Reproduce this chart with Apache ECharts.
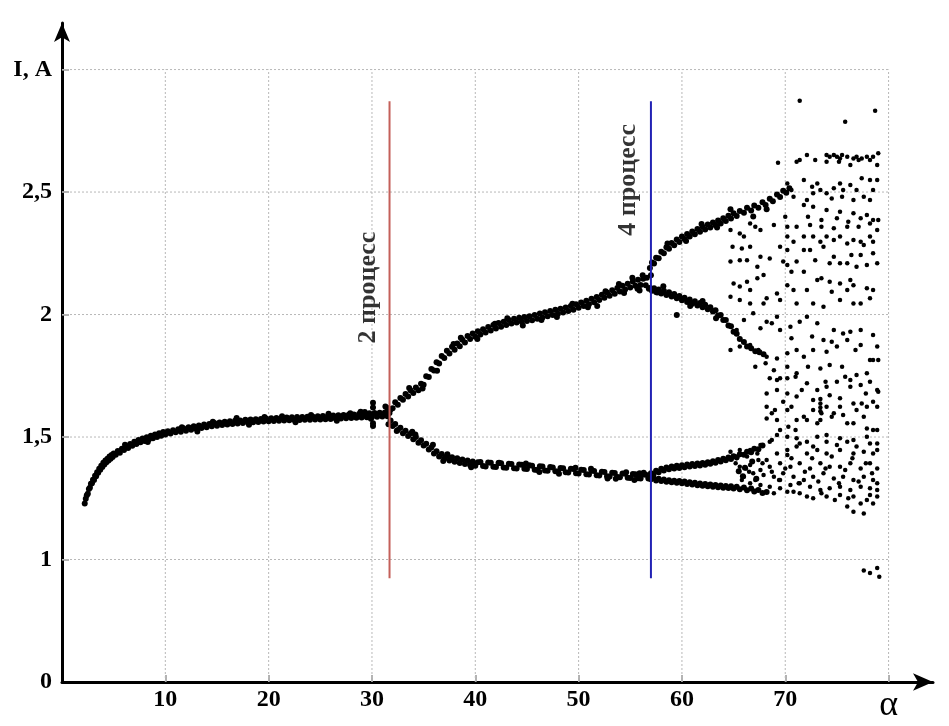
<!DOCTYPE html>
<html>
<head>
<meta charset="utf-8">
<script src="https://cdn.jsdelivr.net/npm/echarts@6/dist/echarts.min.js"></script>
<style>html,body{margin:0;padding:0;background:#fff}#c{width:949px;height:726px}</style>
</head>
<body>
<div id="c"></div>
<script>
// ---------- axis ticks / labels ----------
const xTickValues = [10, 20, 30, 40, 50, 60, 70, 80];
const xTickLabels = ['10', '20', '30', '40', '50', '60', '70', '{a|α}'];
const yTickValues = [0.5, 1, 1.5, 2, 2.5, 3];
const yTickLabels = ['0', '1', '1,5', '2', '2,5', 'I, A'];
const gridX = [10, 20, 30, 40, 50, 60, 70, 80];
const gridY = [1, 1.5, 2, 2.5, 3];

// ---------- data: [alpha, I] ----------
const branch1 = [[2.2,1.229],[2.3,1.248],[2.4,1.262],[2.5,1.268],[2.6,1.288],[2.7,1.293],[2.8,1.309],[2.9,1.311],[3.0,1.326],[3.1,1.325],[3.2,1.342],[3.3,1.340],[3.4,1.356],[3.5,1.354],[3.6,1.370],[3.7,1.366],[3.8,1.383],[3.9,1.378],[4.0,1.395],[4.1,1.388],[4.2,1.404],[4.3,1.397],[4.4,1.411],[4.5,1.404],[4.6,1.420],[4.7,1.411],[4.8,1.427],[4.9,1.418],[5.0,1.433],[5.2,1.428],[5.4,1.443],[5.6,1.436],[5.8,1.452],[6.0,1.447],[6.2,1.462],[6.4,1.455],[6.6,1.472],[6.8,1.464],[7.0,1.481],[7.2,1.472],[7.4,1.488],[7.6,1.479],[7.8,1.494],[8.0,1.484],[8.2,1.499],[8.4,1.490],[8.6,1.505],[8.8,1.495],[9.0,1.510],[9.2,1.500],[9.4,1.515],[9.6,1.505],[9.8,1.520],[10.0,1.510],[10.25,1.524],[10.5,1.514],[10.75,1.528],[11.0,1.519],[11.25,1.532],[11.5,1.522],[11.75,1.536],[12.0,1.526],[12.25,1.540],[12.5,1.530],[12.75,1.544],[13.0,1.534],[13.25,1.547],[13.5,1.537],[13.75,1.551],[14.0,1.540],[14.25,1.553],[14.5,1.544],[14.75,1.557],[15.0,1.546],[15.25,1.559],[15.5,1.549],[15.75,1.562],[16.0,1.551],[16.25,1.564],[16.5,1.553],[16.75,1.566],[17.0,1.555],[17.25,1.567],[17.5,1.557],[17.75,1.570],[18.0,1.558],[18.25,1.571],[18.5,1.560],[18.75,1.573],[19.0,1.561],[19.25,1.574],[19.5,1.563],[19.75,1.576],[20.0,1.564],[20.25,1.577],[20.5,1.565],[20.75,1.578],[21.0,1.566],[21.25,1.579],[21.5,1.567],[21.75,1.580],[22.0,1.568],[22.25,1.581],[22.5,1.569],[22.75,1.582],[23.0,1.569],[23.25,1.582],[23.5,1.570],[23.75,1.583],[24.0,1.570],[24.25,1.584],[24.5,1.571],[24.75,1.585],[25.0,1.572],[25.25,1.586],[25.5,1.573],[25.75,1.587],[26.0,1.574],[26.25,1.588],[26.5,1.575],[26.75,1.589],[27.0,1.576],[27.25,1.590],[27.5,1.577],[27.75,1.591],[28.0,1.578],[28.25,1.592],[28.5,1.579],[28.75,1.594],[29.0,1.580],[29.25,1.595],[29.5,1.581],[29.75,1.597],[30.0,1.582],[30.25,1.598],[30.5,1.583],[30.75,1.599],[31.0,1.584],[31.25,1.600],[31.5,1.585],[31.7,1.598],
[16.9,1.578],[21.3,1.585],[25.8,1.595],[28.9,1.603],[30.1,1.640],[30.1,1.620],[30.1,1.545],[30.1,1.556],[29.3,1.602],[31.3,1.625],[31.5,1.618],[31.6,1.552],
[6.1,1.468],[8.3,1.480],[11.6,1.540],[13.1,1.523],[14.6,1.562],[18.1,1.550],[19.6,1.582],[22.6,1.560],[24.1,1.590],[26.6,1.566],[27.9,1.597],[29.9,1.575]];

const upperBranch = [[31.8,1.612],[32.0,1.617],[32.25,1.642],[32.5,1.632],[32.75,1.659],[33.0,1.652],[33.25,1.676],[33.5,1.665],[33.75,1.690],[34.0,1.680],[34.25,1.702],[34.5,1.691],[34.75,1.717],[35.0,1.713],[35.25,1.748],[35.5,1.745],[35.75,1.778],[36.0,1.772],[36.25,1.805],[36.5,1.800],[36.75,1.831],[37.0,1.823],[37.25,1.852],[37.5,1.841],[37.75,1.868],[38.0,1.856],[38.25,1.882],[38.5,1.871],[38.75,1.897],[39.0,1.886],[39.25,1.912],[39.5,1.900],[39.75,1.923],[40.0,1.909],[40.25,1.932],[40.5,1.918],[40.75,1.940],[41.0,1.927],[41.25,1.949],[41.5,1.935],[41.75,1.957],[42.0,1.943],[42.25,1.965],[42.5,1.950],[42.75,1.971],[43.0,1.957],[43.25,1.978],[43.5,1.963],[43.75,1.983],[44.0,1.967],[44.25,1.987],[44.5,1.971],[44.75,1.990],[45.0,1.974],[45.25,1.993],[45.5,1.977],[45.75,1.998],[46.0,1.983],[46.25,2.004],[46.5,1.988],[46.75,2.009],[47.0,1.993],[47.25,2.014],[47.5,1.998],[47.75,2.019],[48.0,2.003],[48.25,2.024],[48.5,2.008],[48.75,2.029],[49.0,2.014],[49.25,2.035],[49.5,2.020],[49.75,2.042],[50.0,2.028],[50.25,2.049],[50.5,2.035],[50.75,2.056],[51.0,2.042],[51.25,2.064],[51.5,2.050],[51.75,2.072],[52.0,2.059],[52.25,2.081],[52.5,2.068],[52.75,2.090],[53.0,2.077],[53.25,2.099],[53.5,2.085],[53.75,2.108],[54.0,2.094],[54.25,2.117],[54.5,2.102],[54.75,2.126],[55.0,2.110],[55.25,2.135],[55.5,2.117],[55.75,2.142],[56.0,2.121],[56.25,2.146],[56.5,2.120],
[44.6,1.955],[47.9,1.990],[51.8,2.035],[53.9,2.125],[55.2,2.150],[55.7,2.105],[56.2,2.160],[55.9,2.098],[40.2,1.900],[38.6,1.905],[36.3,1.770],[33.6,1.700],[57.0,2.160],[57.6,2.090],[56.8,2.105],
[34.9,1.698],[37.9,1.880],[41.9,1.962],[43.1,1.985],[46.4,1.978],[49.4,2.044],[50.9,2.030],[52.6,2.095],[54.4,2.088],[56.6,2.150]];

const lowerBranch = [[31.8,1.567],[32.0,1.545],[32.25,1.553],[32.5,1.529],[32.75,1.538],[33.0,1.515],[33.25,1.526],[33.5,1.504],[33.75,1.514],[34.0,1.491],[34.25,1.500],[34.5,1.477],[34.75,1.487],[35.0,1.465],[35.25,1.473],[35.5,1.449],[35.75,1.457],[36.0,1.433],[36.25,1.442],[36.5,1.420],[36.75,1.431],[37.0,1.411],[37.25,1.423],[37.5,1.404],[37.75,1.417],[38.0,1.399],[38.25,1.413],[38.5,1.394],[38.75,1.408],[39.0,1.390],[39.25,1.404],[39.5,1.386],[39.75,1.400],[40.0,1.383],[40.25,1.397],[40.5,1.398],[40.75,1.382],[41.0,1.380],[41.25,1.396],[41.5,1.395],[41.75,1.379],[42.0,1.378],[42.25,1.394],[42.5,1.393],[42.75,1.376],[43.0,1.375],[43.25,1.391],[43.5,1.390],[43.75,1.373],[44.0,1.372],[44.25,1.388],[44.5,1.387],[44.75,1.370],[45.0,1.369],[45.25,1.385],[45.5,1.383],[45.75,1.366],[46.0,1.365],[46.25,1.381],[46.5,1.380],[46.75,1.363],[47.0,1.362],[47.25,1.378],[47.5,1.376],[47.75,1.360],[48.0,1.359],[48.25,1.374],[48.5,1.373],[48.75,1.356],[49.0,1.355],[49.25,1.370],[49.5,1.369],[49.75,1.352],[50.0,1.351],[50.25,1.366],[50.5,1.365],[50.75,1.348],[51.0,1.347],[51.25,1.362],[51.5,1.361],[51.75,1.344],[52.0,1.343],[52.25,1.358],[52.5,1.357],[52.75,1.340],[53.0,1.339],[53.25,1.354],[53.5,1.353],[53.75,1.337],[54.0,1.336],[54.25,1.351],[54.5,1.350],[54.75,1.334],[55.0,1.333],[55.25,1.349],[55.5,1.348],[55.75,1.332],[56.0,1.331],[56.25,1.347],[56.5,1.346],[56.75,1.331],[57.0,1.340],
[35.9,1.468],[37.3,1.430],[42.3,1.395],[46.2,1.357],[49.7,1.375],[52.8,1.331],[54.6,1.356],[55.4,1.325],[56.3,1.354],[34.2,1.510],[32.4,1.525],
[33.9,1.522],[36.9,1.402],[39.6,1.377],[44.9,1.392],[48.1,1.350],[51.2,1.370],[53.6,1.330],[55.9,1.352]];

const fourUU = [[56.9,2.190],[57.1,2.212],[57.3,2.208],[57.5,2.232],[57.75,2.230],[58.0,2.256],[58.25,2.250],[58.5,2.275],[58.75,2.268],[59.0,2.292],[59.25,2.283],[59.5,2.306],[59.75,2.296],[60.0,2.318],[60.25,2.308],[60.5,2.329],[60.75,2.318],[61.0,2.339],[61.25,2.328],[61.5,2.349],[61.75,2.338],[62.0,2.358],[62.25,2.347],[62.5,2.367],[62.75,2.355],[63.0,2.376],[63.25,2.364],[63.5,2.384],[63.75,2.372],[64.0,2.393],[64.25,2.382],[64.5,2.403],[64.75,2.392],[65.0,2.413],[65.3,2.402],[65.6,2.423],[66.0,2.415],[66.3,2.436],[66.7,2.425],[67.0,2.445],[67.4,2.436],[67.8,2.458],[68.1,2.447],[68.5,2.473],[68.8,2.462],[69.2,2.490],[69.5,2.480],[69.8,2.505],[70.1,2.497],[70.4,2.515],
[64.7,2.430],[66.9,2.400],[68.2,2.430],[58.6,2.290],[60.4,2.300],[61.9,2.370],[63.4,2.355]];

const fourUL = [[56.9,2.108],[57.1,2.097],[57.3,2.107],[57.5,2.092],[57.75,2.102],[58.0,2.086],[58.25,2.097],[58.5,2.080],[58.75,2.091],[59.0,2.074],[59.25,2.084],[59.5,2.066],[59.75,2.076],[60.0,2.058],[60.25,2.068],[60.5,2.051],[60.75,2.061],[61.0,2.044],[61.25,2.054],[61.5,2.037],[61.75,2.047],[62.0,2.030],[62.25,2.040],[62.5,2.022],[62.75,2.030],[63.0,2.012],[63.25,2.017],[63.5,1.996],[63.75,1.998],[64.0,1.978],[64.25,1.978],[64.5,1.955],[64.75,1.952],[65.0,1.930],[65.3,1.922],[65.6,1.900],[66.0,1.888],[66.3,1.870],[66.7,1.862],[67.1,1.850],[67.5,1.846],[67.9,1.838],
[58.2,2.115],[60.8,2.035],[62.0,2.055],[63.3,1.985],[59.5,1.998]];

const fourLU = [[57.0,1.352],[57.25,1.348],[57.5,1.362],[57.75,1.356],[58.0,1.370],[58.25,1.363],[58.5,1.376],[58.75,1.368],[59.0,1.380],[59.25,1.371],[59.5,1.383],[59.75,1.374],[60.0,1.385],[60.25,1.377],[60.5,1.388],[60.75,1.380],[61.0,1.390],[61.25,1.382],[61.5,1.392],[61.75,1.384],[62.0,1.394],[62.25,1.387],[62.5,1.397],[62.75,1.391],[63.0,1.401],[63.25,1.395],[63.5,1.406],[63.75,1.400],[64.0,1.411],[64.25,1.405],[64.5,1.416],[64.75,1.410],[65.0,1.422],[65.3,1.417],[65.6,1.430],[66.0,1.428],[66.3,1.440],[66.7,1.438],[67.0,1.452],[67.4,1.450],[67.8,1.465]];

const fourLL = [[57.0,1.328],[57.25,1.334],[57.5,1.323],[57.75,1.330],[58.0,1.320],[58.25,1.327],[58.5,1.317],[58.75,1.324],[59.0,1.315],[59.25,1.322],[59.5,1.313],[59.75,1.320],[60.0,1.311],[60.25,1.318],[60.5,1.308],[60.75,1.315],[61.0,1.306],[61.25,1.313],[61.5,1.303],[61.75,1.310],[62.0,1.301],[62.25,1.308],[62.5,1.299],[62.75,1.306],[63.0,1.297],[63.25,1.304],[63.5,1.295],[63.75,1.302],[64.0,1.293],[64.25,1.300],[64.5,1.292],[64.75,1.299],[65.0,1.290],[65.3,1.297],[65.6,1.287],[66.0,1.294],[66.3,1.283],[66.7,1.290],[67.0,1.278],[67.4,1.284],[67.8,1.271],[68.2,1.276],
[65.5,1.360],[66.1,1.375],[66.8,1.400],[67.2,1.330],[65.9,1.340]];

const chaosUpper = [[71.4,2.873],[75.8,2.787],[78.7,2.832],[69.3,2.620],
[71.1,2.624],[71.4,2.631],[72.1,2.651],[72.9,2.631],[74.0,2.651],[74.3,2.644],[74.7,2.651],[75.0,2.644],[75.3,2.637],[75.5,2.651],[76.0,2.644],[76.6,2.637],[76.9,2.644],[77.1,2.631],[77.4,2.637],[77.9,2.644],[78.2,2.631],[78.5,2.644],[78.9,2.610],[79.0,2.658],[76.3,2.610],[74.0,2.624],[75.2,2.624],
[70.2,2.535],[71.8,2.549],[73.1,2.535],[74.7,2.515],[76.3,2.529],[77.4,2.556],[78.2,2.549],[78.9,2.549],[75.6,2.508],[73.4,2.508],
[70.8,2.481],[72.1,2.467],[72.7,2.495],[74.5,2.474],[75.5,2.481],[76.6,2.467],[77.6,2.481],[78.2,2.467],
[70.0,2.399],[71.8,2.447],[72.7,2.440],[74.0,2.427],[75.3,2.420],[76.6,2.413],[78.5,2.386],[77.3,2.393],[79.0,2.386],
[66.6,2.372],[67.1,2.358],[68.9,2.365],[70.2,2.358],[71.1,2.358],[72.4,2.365],[73.5,2.358],[74.7,2.352],[76.0,2.358],[77.1,2.358],[78.9,2.345],[78.2,2.372],
[64.7,2.345],[65.6,2.331],[66.0,2.318],[67.6,2.345],[70.2,2.318],[71.8,2.318],[72.7,2.318],[74.0,2.318],[75.3,2.318],[76.6,2.304],[77.3,2.297],[78.2,2.318],
[64.9,2.277],[65.8,2.270],[66.6,2.277],[70.2,2.263],[71.8,2.263],[72.4,2.263],[73.7,2.277],[74.7,2.236],[76.4,2.243],[77.3,2.243],[78.5,2.250],[69.5,2.277],
[64.7,2.216],[66.3,2.222],[67.6,2.236],[68.5,2.229],[69.8,2.216],[71.1,2.216],[72.9,2.222],[74.3,2.209],[76.0,2.209],[77.9,2.202],[78.9,2.209],[70.6,2.175],[71.8,2.175],
[65.0,2.127],[66.3,2.134],[67.3,2.148],[67.9,2.161],[70.2,2.120],[72.1,2.100],[73.1,2.141],[73.5,2.148],[74.3,2.134],[75.3,2.127],[76.3,2.141],[77.9,2.107],[76.6,2.120],
[64.7,2.073],[65.6,2.059],[66.6,2.045],[68.2,2.066],[69.2,2.086],[69.5,2.059],[71.1,2.045],[72.7,2.045],[74.5,2.093],[75.3,2.059],[77.3,2.045],[78.2,2.066],
[70.6,2.508],[72.6,2.522],[74.0,2.495],[75.3,2.535],[76.9,2.508],[78.5,2.508],[72.2,2.399],[73.5,2.386],[75.0,2.393],[76.1,2.379],[77.9,2.406],
[70.8,2.297],[73.4,2.297],[74.7,2.304],[76.0,2.290],[77.6,2.284],[78.5,2.297],[65.6,2.222],[67.3,2.195],[70.2,2.202],[75.3,2.209],[76.9,2.195],
[65.6,2.114],[66.6,2.100],[70.8,2.100],[76.0,2.100],[78.5,2.100],[67.9,2.045],[73.7,2.032],[76.6,2.045]];

const chaosMiddle = [[65.3,1.937],[66.0,1.978],[66.9,2.005],[67.6,1.944],[68.2,1.971],[69.2,1.991],[69.5,1.937],[70.5,1.950],[71.4,1.971],[72.1,1.991],[73.1,1.964],[73.7,1.896],[74.7,1.937],[75.6,1.923],[76.3,1.930],[77.3,1.937],[78.5,1.916],[78.9,1.869],
[65.6,1.869],[66.6,1.876],[67.4,1.855],[68.2,1.828],[69.2,1.821],[70.2,1.842],[71.1,1.855],[71.8,1.828],[72.7,1.855],[74.0,1.848],[75.0,1.869],[76.0,1.896],[77.3,1.876],[78.5,1.814],[79.0,1.814],[64.7,1.855],
[67.1,1.787],[68.1,1.801],[68.9,1.773],[69.5,1.740],[70.2,1.787],[71.1,1.760],[72.2,1.787],[73.4,1.780],[74.3,1.794],[75.5,1.787],[76.3,1.733],[76.9,1.753],[77.9,1.760],[78.9,1.692],
[68.5,1.740],[69.2,1.733],[70.2,1.740],[71.0,1.746],[72.1,1.719],[73.1,1.692],[74.0,1.705],[75.0,1.726],[76.3,1.705],[77.3,1.712],[78.2,1.726],
[68.2,1.678],[69.2,1.692],[70.2,1.678],[71.1,1.665],[72.7,1.651],[73.4,1.637],[74.3,1.671],[75.3,1.658],[76.6,1.637],[77.4,1.637],[78.5,1.644],[79.0,1.685],
[68.2,1.624],[69.0,1.610],[70.2,1.610],[71.8,1.583],[72.7,1.610],[73.5,1.597],[74.7,1.597],[75.6,1.590],[76.9,1.610],[77.9,1.624],[78.9,1.624],[77.6,1.583],[73.4,1.620],[73.4,1.655],[73.4,1.605],
[68.2,1.576],[69.2,1.569],[71.1,1.569],[72.1,1.569],[73.4,1.569],[74.5,1.583],[76.0,1.556],[77.9,1.535],[78.9,1.529],[71.0,1.529],[70.3,1.542],
[68.7,1.964],[70.6,1.903],[72.6,1.910],[74.5,1.889],[76.8,1.855],[78.2,1.814],[69.8,1.644],[71.6,1.692],[73.9,1.726],[75.8,1.746],[77.8,1.678],
[68.7,1.597],[70.6,1.624],[75.3,1.624],[76.6,1.556],[73.1,1.556],[74.0,1.624]];

const chaosLower = [[64.7,1.440],[65.6,1.447],[66.6,1.447],[67.6,1.467],[68.5,1.481],[69.2,1.508],[70.2,1.501],[71.1,1.495],[72.1,1.481],[73.1,1.501],[74.0,1.481],[75.0,1.467],[76.0,1.481],[76.9,1.461],[78.2,1.474],[78.9,1.474],
[65.3,1.413],[66.3,1.420],[67.3,1.433],[68.2,1.406],[69.2,1.433],[70.2,1.447],[71.1,1.461],[72.1,1.433],[73.1,1.447],[74.0,1.433],[75.3,1.447],[76.6,1.433],[77.6,1.440],[78.5,1.433],
[65.6,1.379],[66.6,1.386],[67.6,1.365],[68.5,1.379],[69.5,1.393],[70.5,1.379],[71.4,1.393],[72.4,1.372],[73.4,1.393],[74.3,1.379],[75.3,1.379],[76.3,1.393],[77.3,1.372],[78.2,1.393],[78.9,1.372],
[66.0,1.338],[66.9,1.352],[67.9,1.345],[68.9,1.338],[69.8,1.352],[70.8,1.338],[71.8,1.325],[72.7,1.338],[73.7,1.352],[74.7,1.331],[75.6,1.338],[76.6,1.325],[77.6,1.338],[78.5,1.325],
[66.6,1.311],[67.6,1.304],[68.5,1.297],[69.5,1.291],[70.5,1.304],[71.4,1.311],[72.4,1.297],[73.4,1.284],[74.3,1.291],[75.3,1.297],[76.3,1.284],[77.3,1.297],[78.2,1.291],[78.9,1.284],
[68.9,1.270],[70.2,1.277],[71.4,1.270],[72.7,1.250],[74.0,1.257],[75.3,1.263],[76.6,1.257],[77.9,1.243],[78.9,1.257],[76.0,1.216],[76.6,1.195],[77.6,1.188],[78.5,1.229],
[65.2,1.393],[66.2,1.372],[67.1,1.325],[67.8,1.393],[68.7,1.358],[69.4,1.325],[70.0,1.372],[70.6,1.413],[71.3,1.311],[71.9,1.358],[72.6,1.413],[73.2,1.318],[73.9,1.372],[74.5,1.420],[75.2,1.311],[75.8,1.365],[76.5,1.413],[77.1,1.318],[77.8,1.393],[78.4,1.352],[78.9,1.447],[78.9,1.311],
[67.3,1.284],[69.5,1.325],[70.8,1.277],[72.1,1.257],[73.5,1.270],[74.8,1.243],[76.1,1.250],[77.3,1.229],[78.2,1.263],[70.2,1.427],[71.4,1.474],[72.7,1.461],[74.0,1.508],[75.3,1.495],[76.6,1.488],[77.9,1.501],[78.5,1.529],[69.5,1.529],[68.7,1.488],[67.4,1.406],[66.5,1.358],[65.8,1.325],
[77.6,0.955],[78.2,0.945],[79.1,0.930],[78.9,0.965]];

// process markers (vertical lines) and their captions
const process2Line = [[31.7, 0.924], [31.7, 2.871]];
const process4Line = [[57.0, 0.924], [57.0, 2.871]];
const captions = [{ text: '2 процесс', at: [29.6, 2.11] }, { text: '4 процесс', at: [54.8, 2.55] }];

// ---------- chart ----------
const serif = '"Liberation Serif", "Times New Roman", serif';
const chart = echarts.init(document.getElementById('c'), null, { renderer: 'canvas' });

const gridSeries = [];
gridX.forEach(x => gridSeries.push({
  type: 'line', data: [[x, 0.5], [x, 3]], symbol: 'none', silent: true, z: 1,
  lineStyle: { color: '#b8b8b8', width: 1, type: [2, 2] }
}));
gridY.forEach(y => gridSeries.push({
  type: 'line', data: [[0, y], [80, y]], symbol: 'none', silent: true, z: 1,
  lineStyle: { color: '#b8b8b8', width: 1, type: [2, 2] }
}));

const dotStyle = { color: '#000', opacity: 1 };
const bandSeries = [branch1, upperBranch, lowerBranch, fourUU, fourUL, fourLU, fourLL].map(d => ({
  type: 'scatter', data: d, symbol: 'circle', symbolSize: 6, itemStyle: dotStyle, z: 3, silent: true
}));
const chaosSeries = [chaosUpper, chaosMiddle, chaosLower].map(d => ({
  type: 'scatter', data: d, symbol: 'circle', symbolSize: 4.5, itemStyle: dotStyle, z: 3, silent: true
}));

const option = {
  animation: false,
  backgroundColor: '#fff',
  grid: { left: 62, right: 16, top: 23, bottom: 44, containLabel: false, outerBoundsMode: 'none' },
  xAxis: {
    type: 'value', min: 0, max: 84.3,
    axisLine: { show: true, lineStyle: { color: '#000', width: 3 }, symbol: ['none', 'arrow'], symbolSize: [13, 20] },
    axisTick: { show: true, inside: true, length: 7, lineStyle: { color: '#999', width: 1.5 }, customValues: xTickValues },
    axisLabel: {
      customValues: xTickValues, margin: 6, color: '#000', fontFamily: serif, fontWeight: 'bold', fontSize: 24,
      formatter: v => { const i = xTickValues.indexOf(v); return i >= 0 ? xTickLabels[i] : ''; },
      rich: { a: { fontFamily: serif, fontSize: 36, fontWeight: 'normal', color: '#000', padding: [0, 0, 0, 0] } }
    },
    splitLine: { show: false }
  },
  yAxis: {
    type: 'value', min: 0.5, max: 3.19,
    axisLine: { show: true, lineStyle: { color: '#000', width: 3 }, symbol: ['none', 'arrow'], symbolSize: [12, 19] },
    axisTick: { show: true, inside: true, length: 7, lineStyle: { color: '#999', width: 1.5 }, customValues: gridY },
    axisLabel: {
      customValues: yTickValues, margin: 10, color: '#000', fontFamily: serif, fontWeight: 'bold', fontSize: 24,
      formatter: v => { const i = yTickValues.indexOf(v); return i >= 0 ? yTickLabels[i] : ''; }
    },
    splitLine: { show: false }
  },
  series: [
    ...gridSeries,
    ...bandSeries,
    ...chaosSeries,
    { type: 'line', data: process2Line, symbol: 'none', silent: true, z: 5, lineStyle: { color: '#c4605a', width: 2 } },
    { type: 'line', data: process4Line, symbol: 'none', silent: true, z: 5, lineStyle: { color: '#2222b4', width: 2 } },
    {
      type: 'scatter', symbolSize: 0, silent: true, z: 6,
      data: captions.map(c => ({ value: c.at, name: c.text })),
      label: {
        show: true, position: 'inside', rotate: 90, formatter: p => p.name,
        fontFamily: serif, fontWeight: 'bold', fontSize: 26, color: '#000', align: 'center', verticalAlign: 'middle'
      }
    }
  ]
};
chart.setOption(option);
</script>
</body>
</html>
